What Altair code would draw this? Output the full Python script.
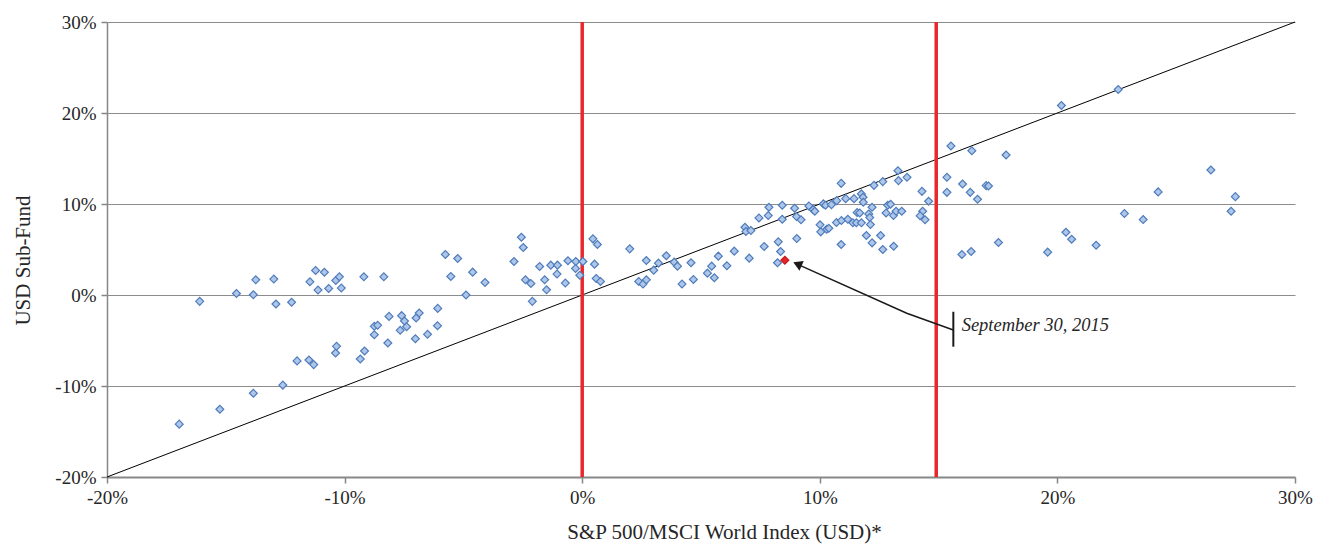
import altair as alt
import pandas as pd

# Monthly (rolling) returns, in percent
index_ret = [
    -16.96, -16.1, -15.25, -14.55, -13.84, -13.84, -13.74, -12.98, -12.89, -12.6,
    -12.23, -12.0, -11.5, -11.3, -11.46, -11.22, -11.12, -10.85, -10.67, -10.38,
    -10.34, -10.37, -10.22, -10.14,
    -9.19, -8.35, -9.34, -9.16, -8.75, -8.61, -8.75, -8.18, -8.13, -7.6,
    -7.48, -7.39, -7.66, -7.02, -6.99, -6.86, -6.51, -6.09, -6.08, -5.76,
    -5.24, -5.53, -4.89, -4.61, -4.09, -2.87, -2.56, -2.48, -2.39, -2.16,
    -2.1, -1.79, -1.58, -1.5, -1.32, -1.04, -1.06, -0.71, -0.6, -0.27,
    -0.28, -0.1, 0.03,
    0.45, 0.64, 0.52, 0.59, 0.77, 2.0, 2.38, 2.56, 2.7, 2.7,
    3.01, 3.21, 3.54, 3.87, 4.01, 4.2, 4.58, 4.68, 5.27, 5.45,
    5.56, 5.73, 6.09, 6.4,
    7.03, 6.85, 6.89, 7.1, 7.44, 7.66, 7.86, 7.83, 8.25, 8.35,
    8.22, 8.42, 8.42, 8.94, 9.03, 9.02, 9.21, 9.54, 9.72, 9.79,
    10.01, 10.04, 10.15, 10.24, 10.29, 10.38, 10.49, 10.71, 10.7, 10.9,
    10.9, 10.91, 11.09, 11.18, 11.39, 11.44, 11.57, 11.68, 11.54, 11.75,
    11.75, 11.82, 11.83, 11.96, 12.06, 12.1, 12.13, 12.2, 12.2, 12.28,
    12.56, 12.65, 12.65, 12.79, 12.86, 12.98, 13.1, 13.11, 13.21, 13.29,
    13.31, 13.45, 13.67, 14.3, 14.33, 14.22, 14.43, 14.58, 15.35, 15.35,
    15.52, 16.4, 17.84, 16.01, 16.33, 16.64, 17.0, 17.1, 15.98, 16.37,
    17.52, 19.59, 20.36, 20.6, 21.63,
    20.17, 22.56, 26.46, 24.24, 27.49, 27.31, 22.82, 23.61,
]
fund_ret = [
    -14.19, -0.7, -12.55, 0.17, 0.03, -10.8, 1.67, 1.75, -0.99, -9.9,
    -0.8, -7.24, -7.14, -7.65, 1.45, 2.7, 0.54, 2.5, 0.72, -6.37,
    -5.64, 1.6, 2.0, 0.76,
    2.0, 2.0, -7.03, -6.15, -3.44, -3.33, -4.36, -5.27, -2.35, -2.27,
    -2.86, -3.48, -3.88, -4.8, -2.53, -1.98, -4.32, -3.37, -1.47, 4.46,
    4.01, 2.04, 0.0, 2.51, 1.38, 3.68, 6.35, 5.22, 1.67, 1.27,
    -0.7, 3.14, 1.67, 0.57, 3.28, 3.28, 2.3, 1.31, 3.76, 3.68,
    2.92, 2.18, 3.68,
    6.17, 5.55, 3.39, 1.82, 1.49, 5.07, 1.49, 1.2, 1.67, 3.79,
    2.73, 3.5, 4.31, 3.61, 3.17, 1.2, 3.54, 1.71, 2.4, 3.17,
    1.9, 4.27, 3.21, 4.82,
    4.05, 7.45, 6.97, 7.08, 8.47, 5.33, 9.64, 8.73, 5.84, 4.78,
    3.54, 9.86, 8.32, 9.53, 6.2, 8.62, 8.26, 9.79, 9.38, 9.2,
    7.71, 6.94, 10.01, 9.86, 7.23, 7.34, 9.93, 10.37, 7.96, 12.27,
    5.55, 8.18, 10.59, 8.32, 7.93, 10.59, 9.06, 9.02, 7.93, 7.93,
    11.11, 10.74, 10.19, 6.54, 8.91, 8.51, 7.74, 9.64, 5.73, 12.05,
    6.54, 12.46, 5.0, 9.02, 9.86, 9.97, 8.73, 5.36, 9.2, 13.66,
    12.57, 9.2, 12.93, 11.39, 9.2, 8.7, 8.26, 10.3, 12.93, 11.28,
    16.37, 15.86, 15.38, 12.2, 11.28, 10.52, 12.02, 11.98, 4.45, 4.78,
    5.77, 4.71, 6.9, 6.13, 5.47,
    20.82, 22.58, 13.74, 11.33, 10.81, 9.2, 8.95, 8.29,
]

# Highlighted observation
highlight_x = [8.53]
highlight_y = [3.82]
highlight_label = ["September 30, 2015"]

# 45-degree reference line endpoints
ref_line = [-20, 30]

# Red vertical reference lines
red_lines = [0, 14.9]

# Axis ticks
tick_values = [-20, -10, 0, 10, 20, 30]

# Annotation geometry (data units)
arrow_x = [15.62, 13.66, 9.0]
arrow_y = [-3.85, -2.01, 3.45]
arrowhead_x = [9.06]
arrowhead_y = [3.40]
bar_x = [15.62]
bar_y = [-1.84]
bar_y2 = [-5.68]
label_x = [15.97]
label_y = [-3.96]

FONT = "Liberation Serif"
TXT = "#262626"
AX = "#878787"

xscale = alt.Scale(domain=[-20, 30], nice=False, zero=False)
yscale = alt.Scale(domain=[-20, 30], nice=False, zero=False)

xaxis = alt.Axis(
    values=tick_values, labelExpr="datum.value + '%'", grid=False,
    labelFlush=False, labelOverlap=False,
    domainColor=AX, domainWidth=2, tickColor=AX, tickWidth=1.5, tickSize=6,
    labelFont=FONT, labelFontSize=19, labelColor=TXT, labelPadding=5,
    title="S&P 500/MSCI World Index (USD)*", titleFont=FONT, titleFontSize=21,
    titleFontWeight="normal", titleColor=TXT, titleX=617, titleY=55,
    titleBaseline="middle", titleAlign="center",
)
yaxis = alt.Axis(
    values=tick_values, labelExpr="datum.value + '%'", grid=True,
    labelFlush=False, labelOverlap=False,
    gridColor="#8c8c8c", gridWidth=1, domainColor=AX, domainWidth=1.5,
    tickColor=AX, tickWidth=1.5, tickSize=6,
    labelFont=FONT, labelFontSize=19, labelColor=TXT, labelPadding=5,
    title="USD Sub-Fund", titleFont=FONT, titleFontSize=21,
    titleFontWeight="normal", titleColor=TXT, titleAngle=270,
    titleX=-84, titleY=238, titleAlign="center", titleBaseline="middle",
)

pts = pd.DataFrame({"x": index_ret, "y": fund_ret})
ref = pd.DataFrame({"x": ref_line, "y": ref_line})
reds = pd.DataFrame({"x": red_lines})
hl = pd.DataFrame({"x": highlight_x, "y": highlight_y})
arrow = pd.DataFrame({"x": arrow_x, "y": arrow_y, "o": list(range(len(arrow_x)))})
head = pd.DataFrame({"x": arrowhead_x, "y": arrowhead_y})
bar = pd.DataFrame({"x": bar_x, "y": bar_y, "y2": bar_y2})
lab = pd.DataFrame({"x": label_x, "y": label_y, "t": highlight_label})

base_axes = alt.Chart(ref).mark_line(color="black", strokeWidth=1).encode(
    x=alt.X("x:Q", scale=xscale, axis=xaxis),
    y=alt.Y("y:Q", scale=yscale, axis=yaxis),
)

red = alt.Chart(reds).mark_rule(color="#e8282d", strokeWidth=3.5).encode(
    x=alt.X("x:Q", scale=xscale)
)

scatter = alt.Chart(pts).mark_point(
    shape="diamond", size=62, fill="#aec6ea", stroke="#4e7cba",
    strokeWidth=1.2, fillOpacity=1, opacity=1,
).encode(x=alt.X("x:Q", scale=xscale), y=alt.Y("y:Q", scale=yscale))

hl_pt = alt.Chart(hl).mark_point(
    shape="diamond", size=62, fill="#e8232a", stroke="#c8161c",
    strokeWidth=1.2, fillOpacity=1, opacity=1,
).encode(x=alt.X("x:Q", scale=xscale), y=alt.Y("y:Q", scale=yscale))

arrow_line = alt.Chart(arrow).mark_line(color="#1a1a1a", strokeWidth=1.5).encode(
    x=alt.X("x:Q", scale=xscale), y=alt.Y("y:Q", scale=yscale), order="o:Q"
)
arrow_head = alt.Chart(head).mark_point(
    shape="triangle-up", size=110, angle=294, filled=True, color="#1a1a1a", opacity=1
).encode(x=alt.X("x:Q", scale=xscale), y=alt.Y("y:Q", scale=yscale))

bar_mark = alt.Chart(bar).mark_rule(color="#1a1a1a", strokeWidth=2).encode(
    x=alt.X("x:Q", scale=xscale), y=alt.Y("y:Q", scale=yscale), y2="y2:Q"
)
label = alt.Chart(lab).mark_text(
    font=FONT, fontSize=18.5, fontStyle="italic", color=TXT,
    align="left", baseline="alphabetic",
).encode(x=alt.X("x:Q", scale=xscale), y=alt.Y("y:Q", scale=yscale), text="t:N")

chart = alt.layer(
    base_axes, red, scatter, hl_pt, arrow_line, arrow_head, bar_mark, label
).properties(
    width=1188, height=455,
    autosize=alt.AutoSizeParams(type="none"),
    padding={"left": 107, "top": 22, "right": 27, "bottom": 67},
    background="white",
).configure_view(stroke=None)

chart.save("out.html", embed_options={"renderer": "svg", "actions": False})
